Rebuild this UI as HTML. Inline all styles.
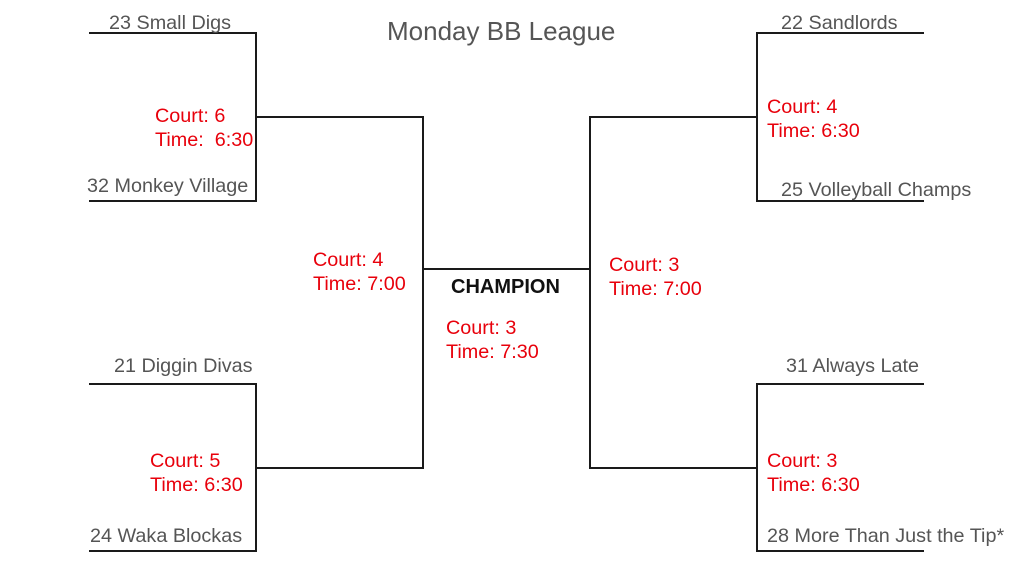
<!DOCTYPE html>
<html><head><meta charset="utf-8"><style>
html,body{margin:0;padding:0;background:#fff;width:1026px;height:572px;overflow:hidden}
svg{display:block}
text{font-family:"Liberation Sans",Arial,sans-serif;font-size:19.8px}
.g{fill:#555}
.r{fill:#e8000b}
</style></head><body>
<svg width="1026" height="572" viewBox="0 0 1026 572">
<g stroke="#1a1a1a" stroke-width="2" fill="none">
<path d="M89 33H256V201H89"/>
<path d="M256 117H423V468H256"/>
<path d="M89 384H256V551H89"/>
<path d="M423 269H590"/>
<path d="M924 33H757V201H924"/>
<path d="M757 117H590V468H757"/>
<path d="M924 384H757V551H924"/>
</g>
<text class="g" x="387" y="40" style="font-size:26px">Monday BB League</text>
<text class="g" x="109" y="29">23 Small Digs</text>
<text class="g" x="87" y="192">32 Monkey Village</text>
<text class="r" x="155" y="122">Court: 6</text>
<text class="r" x="155" y="146">Time:&#160; 6:30</text>
<text class="g" x="114" y="372">21 Diggin Divas</text>
<text class="r" x="150" y="467">Court: 5</text>
<text class="r" x="150" y="491">Time: 6:30</text>
<text class="g" x="90" y="542">24 Waka Blockas</text>
<text class="r" x="313" y="266">Court: 4</text>
<text class="r" x="313" y="290">Time: 7:00</text>
<text x="451" y="293" style="font-weight:bold;font-size:20px;fill:#111">CHAMPION</text>
<text class="r" x="446" y="334">Court: 3</text>
<text class="r" x="446" y="358">Time: 7:30</text>
<text class="r" x="609" y="271">Court: 3</text>
<text class="r" x="609" y="295">Time: 7:00</text>
<text class="g" x="781" y="29">22 Sandlords</text>
<text class="r" x="767" y="113">Court: 4</text>
<text class="r" x="767" y="137">Time: 6:30</text>
<text class="g" x="781" y="196">25 Volleyball Champs</text>
<text class="g" x="786" y="372">31 Always Late</text>
<text class="r" x="767" y="467">Court: 3</text>
<text class="r" x="767" y="491">Time: 6:30</text>
<text class="g" x="767" y="542">28 More Than Just the Tip*</text>
</svg>
</body></html>
